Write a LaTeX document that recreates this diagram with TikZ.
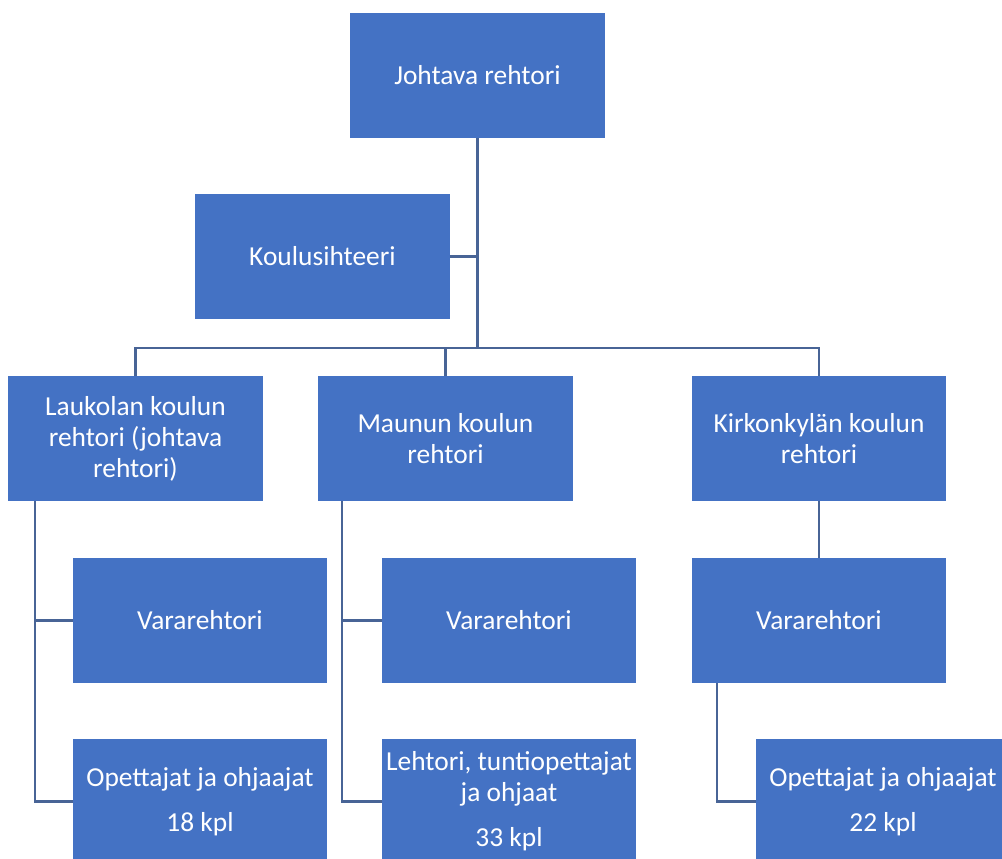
\documentclass[tikz,border=0pt]{standalone}
\usepackage{fontspec}
\setmainfont{Carlito}
\usepackage{tikz}
\usetikzlibrary{positioning}
\definecolor{boxblue}{HTML}{4472C4}
\definecolor{linkblue}{RGB}{72,100,150}

\begin{document}
\begin{tikzpicture}[x=0.025cm, y=-0.025cm,
    unit/.style={rectangle, fill=boxblue, text=white, minimum width=6.35cm,
        minimum height=3.125cm, align=center, inner sep=0pt,
        font=\fontsize{19.5}{22}\selectfont},
    link/.style={draw=linkblue, line width=1.6pt}]

    \useasboundingbox (0,0) rectangle (1002,858);
    \clip (0,0) rectangle (1002,858);

    % top levels
    \node[unit] (top) at (477.5, 75.5) {Johtava rehtori};
    \node[unit] (sec) at (322.5, 256.5) {Koulusihteeri};

    % schools
    \node[unit] (lau) at (135.5, 438.5) {Laukolan koulun\\rehtori (johtava\\rehtori)};
    \node[unit] (mau) at (445.5, 438.5) {Maunun koulun\\rehtori};
    \node[unit] (kir) at (819, 438.5) {Kirkonkylän koulun\\rehtori};

    \node[unit] (v1) at (200, 620.5) {Vararehtori};
    \node[unit] (v2) at (509, 620.5) {Vararehtori};
    \node[unit] (v3) at (819, 620.5) {Vararehtori};

    \node[unit] (o1) at (200, 801.5) {Opettajat ja ohjaajat\\[10pt]18 kpl};
    \node[unit] (o2) at (509, 801.5) {Lehtori, tuntiopettajat\\ja ohjaat\\[10pt]33 kpl};
    \node[unit] (o3) at (883, 801.5) {Opettajat ja ohjaajat\\[10pt]22 kpl};

    \coordinate (bus) at (0, 348);

    \draw[link] (top.south) -- (top.south |- bus);
    \draw[link] (sec.east) -- (sec.east -| top.south);
    \draw[link] (lau.north) -- (lau.north |- bus) -- (kir.north |- bus) -- (kir.north);
    \draw[link] (mau.north) -- (mau.north |- bus);

    \draw[link] (lau.south west) ++(27,0) |- (o1.west);
    \draw[link] (lau.south west) ++(27,0) |- (v1.west);
    \draw[link] (mau.south west) ++(24,0) |- (o2.west);
    \draw[link] (mau.south west) ++(24,0) |- (v2.west);
    \draw[link] (kir.south) -- (v3.north);
    \draw[link] (v3.south west) ++(25,0) |- (o3.west);
\end{tikzpicture}
\end{document}
